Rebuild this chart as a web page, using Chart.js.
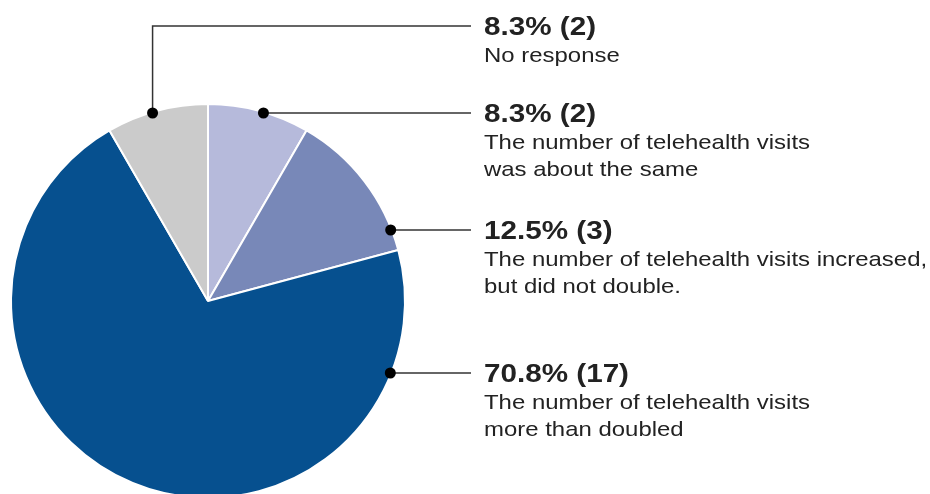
<!DOCTYPE html>
<html>
<head>
<meta charset="utf-8">
<script src="https://cdn.jsdelivr.net/npm/chart.js@4"></script>
<style>
	html, body { margin: 0; padding: 0; background: #fff; overflow: hidden; }
	#wrap { width: 930px; height: 520px; }
</style>
</head>
<body>
<div id="wrap"><canvas id="pieChart" width="930" height="520"></canvas></div>
<script>
// Respuestas por categoría (sentido horario desde las 12)
const categories = [
	'The number of telehealth visits was about the same',
	'The number of telehealth visits increased, but did not double.',
	'The number of telehealth visits more than doubled',
	'No response',
];
const counts = [2, 3, 17, 2];
const percents = [8.3, 12.5, 70.8, 8.3];
// Texto de las etiquetas, partido en líneas
const labelLines = [
	['The number of telehealth visits', 'was about the same'],
	['The number of telehealth visits increased,', 'but did not double.'],
	['The number of telehealth visits', 'more than doubled'],
	['No response'],
];
const sliceColors = ['#b6badb', '#7888b8', '#06508f', '#cbcbcb'];

// Altura de cada línea guía y dónde termina
const leaderY = [113, 230, 373, 26];
const leaderEndX = 471;
const textX = 484;

function stretchedText(ctx, txt, x, y, font) {
	ctx.save();
	ctx.font = font;
	ctx.translate(x, y);
	ctx.scale(1.14, 1);
	ctx.fillText(txt, 0, 0);
	ctx.restore();
}

const calloutPlugin = {
	id: 'callouts',
	afterDatasetsDraw(chart) {
		const ctx = chart.ctx;
		const arcs = chart.getDatasetMeta(0).data;
		const cx = arcs[0].x;
		const cy = arcs[0].y;
		const r = arcs[0].outerRadius - 1;

		ctx.save();
		ctx.strokeStyle = '#333';
		ctx.lineWidth = 1.5;
		ctx.fillStyle = '#000';

		arcs.forEach((arc, i) => {
			const y = leaderY[i];
			let dotX, dotY;
			ctx.beginPath();
			if (i === 3) {
				// la de "No response" sale por la izquierda y sube
				dotY = leaderY[0];
				dotX = cx - Math.sqrt(r * r - (dotY - cy) * (dotY - cy));
				ctx.moveTo(dotX, dotY);
				ctx.lineTo(dotX, y);
				ctx.lineTo(leaderEndX, y);
			} else {
				dotY = y;
				dotX = cx + Math.sqrt(r * r - (dotY - cy) * (dotY - cy));
				ctx.moveTo(dotX, dotY);
				ctx.lineTo(leaderEndX, y);
			}
			ctx.stroke();

			ctx.beginPath();
			ctx.arc(dotX, dotY, 5.5, 0, Math.PI * 2);
			ctx.fill();
		});

		ctx.fillStyle = '#222';
		ctx.textBaseline = 'alphabetic';
		ctx.textAlign = 'left';
		arcs.forEach((arc, i) => {
			const y = leaderY[i];
			stretchedText(ctx, percents[i].toFixed(1) + '% (' + counts[i] + ')', textX, y + 9,
				'bold 26px "Liberation Sans", Arial, sans-serif');
			labelLines[i].forEach((line, k) => {
				stretchedText(ctx, line, textX, y + 36 + k * 27,
					'21px "Liberation Sans", Arial, sans-serif');
			});
		});
		ctx.restore();
	},
};

const ctx = document.getElementById('pieChart').getContext('2d');
const myChart = new Chart(ctx, {
	type: 'pie',
	data: {
		labels: categories,
		datasets: [
			{
				data: counts,
				backgroundColor: sliceColors,
				borderColor: '#ffffff',
				borderWidth: 2,
			},
		],
	},
	options: {
		responsive: false,
		animation: false,
		radius: 197,
		layout: {
			padding: { left: 11, right: 525, top: 104, bottom: 22 },
		},
		plugins: {
			legend: { display: false },
			tooltip: { enabled: false },
		},
	},
	plugins: [calloutPlugin],
});
</script>
</body>
</html>
